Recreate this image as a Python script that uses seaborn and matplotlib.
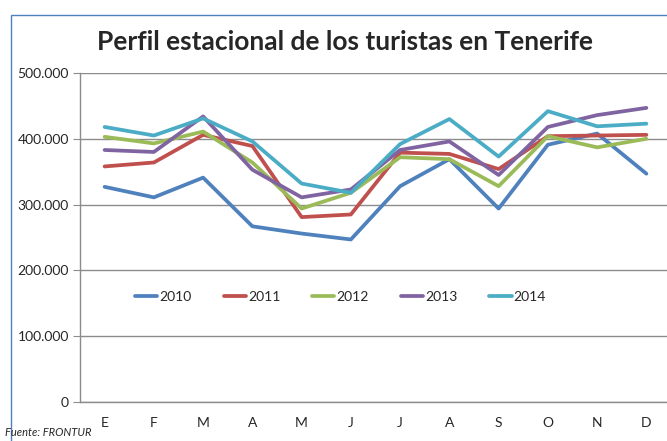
import pandas as pd
import seaborn as sns
import matplotlib.pyplot as plt
from matplotlib.patches import Rectangle
from matplotlib.ticker import FuncFormatter

# Meses (etiquetas del eje X) y turistas por año
meses = ['E', 'F', 'M', 'A', 'M', 'J', 'J', 'A', 'S', 'O', 'N', 'D']
anios = ['2010', '2011', '2012', '2013', '2014']
t2010 = [327000, 311000, 341000, 267000, 256000, 247000, 328000, 369000, 294000, 391000, 408000, 347000]
t2011 = [358000, 364000, 406000, 389000, 281000, 285000, 379000, 377000, 354000, 404000, 405000, 406000]
t2012 = [403000, 393000, 411000, 364000, 294000, 318000, 372000, 369000, 328000, 404000, 387000, 400000]
t2013 = [383000, 380000, 434000, 353000, 311000, 323000, 383000, 396000, 345000, 418000, 436000, 447000]
t2014 = [418000, 405000, 431000, 396000, 332000, 318000, 392000, 430000, 373000, 442000, 419000, 423000]

colores = ['#4F81BD', '#C0504D', '#9BBB59', '#8064A2', '#4BACC6']

filas = []
for anio, serie in zip(anios, [t2010, t2011, t2012, t2013, t2014]):
    for i, v in enumerate(serie):
        filas.append({'mes': i, 'anio': anio, 'turistas': v})
df = pd.DataFrame(filas)

sns.set_style('white')
plt.rcParams['font.family'] = ['Lato', 'DejaVu Sans']

fig = plt.figure(figsize=(6.67, 4.41), dpi=100)
ax = fig.add_axes([80 / 667, 1 - 402 / 441, 591 / 667, 329 / 441])

sns.lineplot(data=df, x='mes', y='turistas', hue='anio', palette=colores,
             linewidth=2.7, ax=ax)

ax.set_xlim(-0.5, 11.5)
ax.set_ylim(0, 500000)
ax.set_yticks(range(0, 500001, 100000))
ax.yaxis.set_major_formatter(FuncFormatter(lambda v, p: f"{int(v):,}".replace(',', '.')))
ax.set_xticks(range(12))
ax.set_xticklabels(meses)
ax.grid(axis='y', color='#8c8c8c', linewidth=1)
ax.set_axisbelow(True)
ax.set_xlabel('')
ax.set_ylabel('')
for s in ['top', 'right']:
    ax.spines[s].set_visible(False)
for s in ['left', 'bottom']:
    ax.spines[s].set_color('#8c8c8c')
    ax.spines[s].set_linewidth(1)
ax.tick_params(axis='y', which='major', left=True, length=5, color='#8c8c8c',
               labelsize=10, pad=3)
ax.tick_params(axis='x', bottom=False, labelsize=10, pad=7)

ax.legend(loc='center left', bbox_to_anchor=(0.072, 0.32), ncol=5, frameon=False,
          handlelength=1.6, handletextpad=0.15, columnspacing=2.3, fontsize=10)

fig.text(345 / 667, 1 - 42 / 441, 'Perfil estacional de los turistas en Tenerife',
         ha='center', va='center', fontsize=19, fontweight='bold')
fig.text(5 / 667, 1 - 433 / 441, 'Fuente: FRONTUR', fontsize=8, style='italic',
         ha='left', va='center')

fig.patches.append(Rectangle((11 / 667, -0.1), 1.2, 1 - 15 / 441 + 0.1,
                             transform=fig.transFigure, fill=False,
                             edgecolor='#4F81BD', linewidth=1))

fig.savefig('out.png', dpi=100)
